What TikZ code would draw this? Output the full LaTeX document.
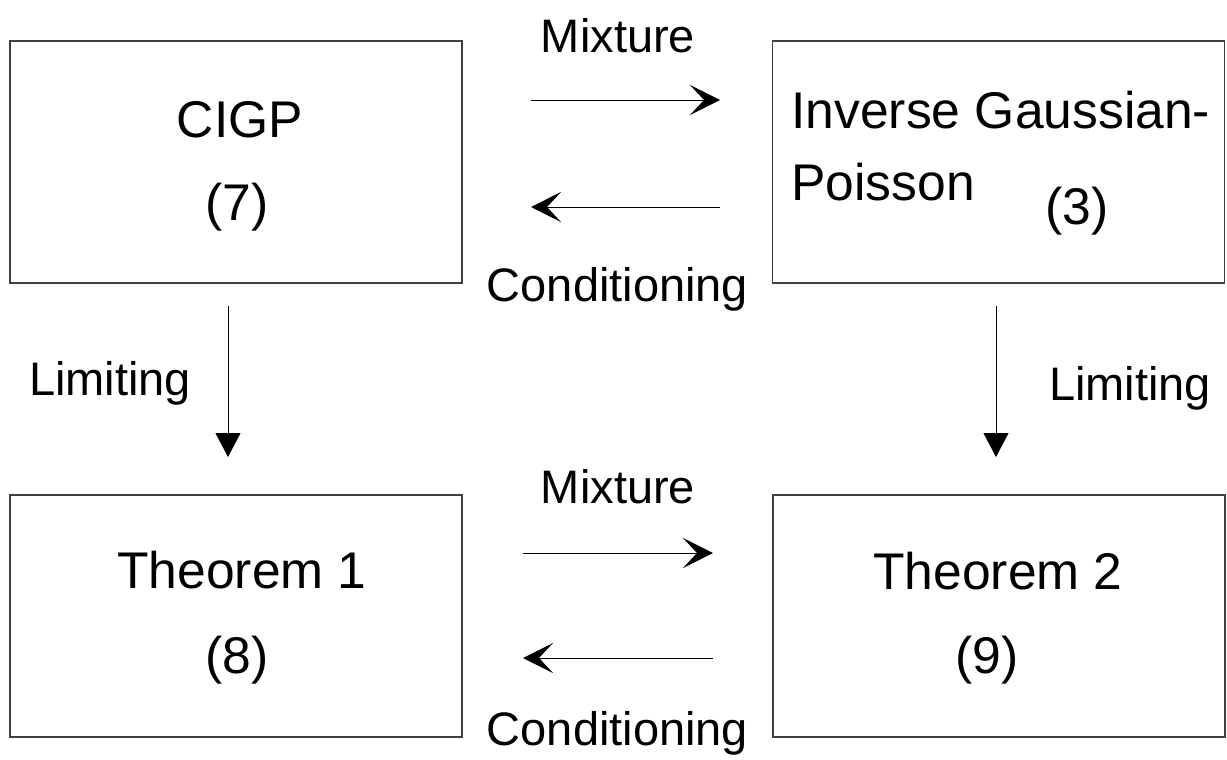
\documentclass[tikz,border=0pt]{standalone}
\usepackage{fontspec}
\setmainfont{Liberation Sans}
\usetikzlibrary{arrows.meta}
\begin{document}
\begin{tikzpicture}[x=0.5pt,y=-0.5pt,
  box/.style={draw=black!75,line width=0.75pt,minimum width=226pt,minimum height=121pt,inner sep=0pt},
  boxtxt/.style={inner sep=0pt,anchor=base,font=\fontsize{25.8}{30}\selectfont},
  lbl/.style={inner sep=0pt,anchor=base,font=\fontsize{23.5}{28}\selectfont},
  harrow/.style={line width=0.5pt,-{Stealth[length=15pt,width=15pt,inset=7pt]}},
  varrow/.style={line width=0.5pt,-{Triangle[length=12pt,width=12.5pt]}}]
\useasboundingbox (0,0) rectangle (1227,760);
% boxes
\node[box] (cigp) at (236,162) {};
\node[box] (igp) at (998.5,162) {};
\node[box] (th1) at (236,616) {};
\node[box] (th2) at (999,616) {};
% box texts
\node[boxtxt] (cigpA) at (240,137) {CIGP};
\node[boxtxt] (cigpB) at (237,220) {(7)};
\node[boxtxt,anchor=base west] (igpA) at (791,128) {Inverse Gaussian-};
\node[boxtxt,anchor=base west] (igpB) at (791,200) {Poisson};
\node[boxtxt] (igpC) at (1077,224) {(3)};
\node[boxtxt] (th1A) at (242,588) {Theorem 1};
\node[boxtxt] (th1B) at (237,673) {(8)};
\node[boxtxt] (th2A) at (998,589) {Theorem 2};
\node[boxtxt] (th2B) at (987,673) {(9)};
% labels
\node[lbl] (mixT) at (618,52) {Mixture};
\node[lbl] (conT) at (617.5,301) {Conditioning};
\node[lbl] (mixB) at (618,503) {Mixture};
\node[lbl] (conB) at (617.5,745) {Conditioning};
\node[lbl] (limL) at (110,395) {Limiting};
\node[lbl] (limR) at (1130,400) {Limiting};
% arrow end points
\coordinate (a1s) at (531,100); \coordinate (a1e) at (720,100);
\coordinate (a2s) at (720,207); \coordinate (a2e) at (531,207);
\coordinate (a3s) at (523,553); \coordinate (a3e) at (713,553);
\coordinate (a4s) at (713,658); \coordinate (a4e) at (523,658);
\coordinate (a5s) at (228,306); \coordinate (a5e) at (228,457);
\coordinate (a6s) at (996,306); \coordinate (a6e) at (996,457);
\draw[harrow] (a1s) -- (a1e);
\draw[harrow] (a2s) -- (a2e);
\draw[harrow] (a3s) -- (a3e);
\draw[harrow] (a4s) -- (a4e);
\draw[varrow] (a5s) -- (a5e);
\draw[varrow] (a6s) -- (a6e);
\end{tikzpicture}
\end{document}
